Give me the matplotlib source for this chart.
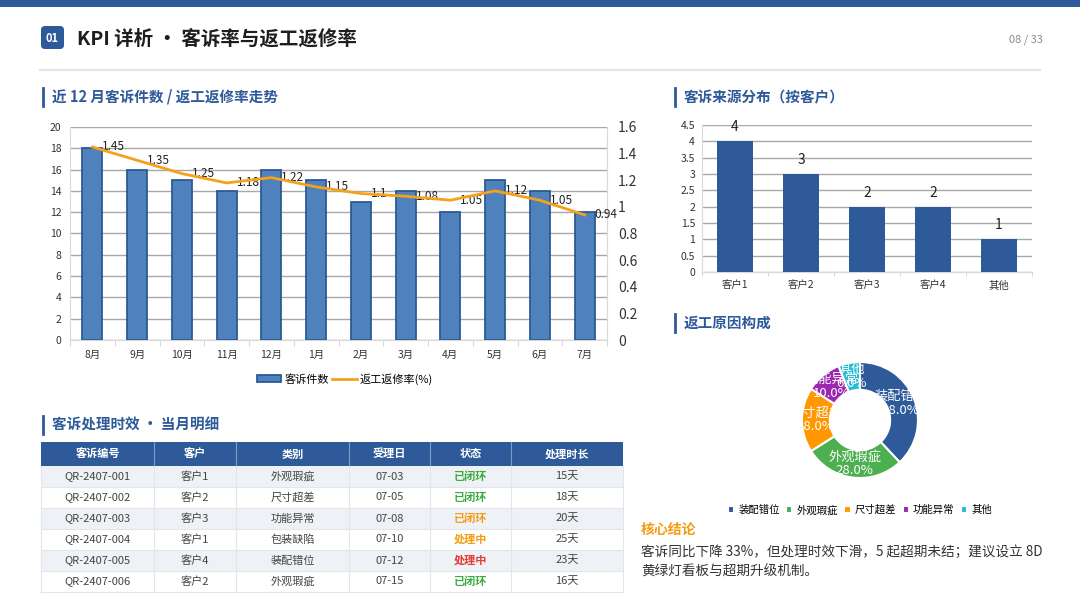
import matplotlib
matplotlib.use('Agg')
import matplotlib.pyplot as plt
from matplotlib.patches import Rectangle, FancyBboxPatch, Patch
from matplotlib.lines import Line2D
from matplotlib import ticker

plt.rcParams['font.family'] = ['Noto Sans CJK SC', 'DejaVu Sans']
plt.rcParams['axes.unicode_minus'] = False

# 数据
months = ['8月', '9月', '10月', '11月', '12月', '1月', '2月', '3月', '4月', '5月', '6月', '7月']
complaints = [18, 16, 15, 14, 16, 15, 13, 14, 12, 15, 14, 12]
rework_rate = [1.45, 1.35, 1.25, 1.18, 1.22, 1.15, 1.1, 1.08, 1.05, 1.12, 1.05, 0.94]

customers = ['客户1', '客户2', '客户3', '客户4', '其他']
customer_counts = [4, 3, 2, 2, 1]

reasons = ['装配错位', '外观瑕疵', '尺寸超差', '功能异常', '其他']
reason_share = [38, 28, 18, 10, 6]

tbl_header = ['客诉编号', '客户', '类别', '受理日', '状态', '处理时长']
tbl_ids = ['QR-2407-001', 'QR-2407-002', 'QR-2407-003', 'QR-2407-004', 'QR-2407-005', 'QR-2407-006']
tbl_cust = ['客户1', '客户2', '客户3', '客户1', '客户4', '客户2']
tbl_type = ['外观瑕疵', '尺寸超差', '功能异常', '包装缺陷', '装配错位', '外观瑕疵']
tbl_date = ['07-03', '07-05', '07-08', '07-10', '07-12', '07-15']
tbl_status = ['已闭环', '已闭环', '已闭环', '处理中', '处理中', '已闭环']
tbl_days = ['15天', '18天', '20天', '25天', '23天', '16天']
status_colors = ['#3BAA3F', '#3BAA3F', '#F39C12', '#F39C12', '#E53935', '#3BAA3F']

BLUE = '#2E5A99'
W, H = 1080, 608

fig = plt.figure(figsize=(10.8, 6.08), dpi=100)
fig.patch.set_facecolor('white')

def px_axes(l, t, r, b):
    return fig.add_axes([l / W, 1 - b / H, (r - l) / W, (b - t) / H])

# 背景层（像素坐标）
bg = fig.add_axes([0, 0, 1, 1], zorder=-1)
bg.set_xlim(0, W)
bg.set_ylim(H, 0)
bg.axis('off')

bg.add_patch(Rectangle((0, 0), W, 7, color=BLUE, lw=0))
bg.add_patch(FancyBboxPatch((41, 26), 23, 23, boxstyle='round,pad=0,rounding_size=4', color=BLUE, lw=0))
bg.text(52.5, 38, '01', color='white', fontsize=8, fontweight='bold', ha='center', va='center')
bg.text(77, 39, 'KPI 详析 • 客诉率与返工返修率', fontsize=14, fontweight='bold', color='#1E1E1E', va='center')
bg.text(1043, 40, '08 / 33', fontsize=8, color='#8A8A8A', ha='right', va='center')
bg.plot([40, 1040], [70, 70], color='#E3E3E3', lw=1.5)

def heading(x, y, s):
    bg.plot([x - 9, x - 9], [y - 9, y + 9], color=BLUE, lw=2)
    bg.text(x, y, s, fontsize=10.5, fontweight='bold', color=BLUE, va='center')

heading(52, 97, '近 12 月客诉件数 / 返工返修率走势')
heading(684, 97, '客诉来源分布（按客户）')
heading(684, 323, '返工原因构成')
heading(52, 425, '客诉处理时效 • 当月明细')

# 主图：柱+折线
ax = px_axes(70, 127, 607, 340)
x = list(range(len(months)))
ax.bar(x, complaints, width=0.45, color='#4F81BD', edgecolor='#2C5A96', lw=1.3, zorder=3)
ax.set_ylim(0, 20)
ax.set_xlim(-0.5, len(months) - 0.5)
ax.set_yticks(range(0, 21, 2))
ax.yaxis.set_major_formatter(ticker.FuncFormatter(lambda v, p: f'{v:g}'))
ax.grid(axis='y', color='#A8A8A8', lw=1, zorder=0)
ax.set_xticks(x)
ax.set_xticklabels(months)
ax.set_xticks([i - 0.5 for i in range(len(months) + 1)], minor=True)
ax.tick_params(axis='x', which='major', length=0, pad=7, labelsize=7.5, colors='#333333')
ax.tick_params(axis='x', which='minor', length=4, color='#D0D0D0')
ax.tick_params(axis='y', length=0, pad=6, labelsize=7.5, colors='#333333')
for s in ['top']:
    ax.spines[s].set_visible(False)
for s in ['left', 'right', 'bottom']:
    ax.spines[s].set_color('#D9D9D9')

ax2 = ax.twinx()
ax2.plot(x, rework_rate, color='#F4A21B', lw=2, zorder=4)
ax2.set_ylim(0, 1.6)
ax2.set_yticks([i * 0.2 for i in range(9)])
ax2.yaxis.set_major_formatter(ticker.FuncFormatter(lambda v, p: f'{round(v, 1):g}'))
ax2.tick_params(axis='y', length=0, pad=8, labelsize=10, colors='#333333')
for s in ['top', 'left', 'bottom']:
    ax2.spines[s].set_visible(False)
ax2.spines['right'].set_color('#D9D9D9')
for xi, v in zip(x, rework_rate):
    ax2.annotate(f'{v:g}', (xi, v), xytext=(10, 0), textcoords='offset pixels',
                 ha='left', va='center', fontsize=8.5, color='#222222')

fig.legend(handles=[Patch(facecolor='#4F81BD', edgecolor='#2C5A96', lw=1.3),
                    Line2D([0], [0], color='#F4A21B', lw=2)],
           labels=['客诉件数', '返工返修率(%)'], loc='center', ncol=2,
           bbox_to_anchor=(345 / W, 1 - 379 / H), frameon=False, fontsize=8,
           handlelength=2.2, handleheight=0.6, columnspacing=0.3, handletextpad=0.3)

# 客户分布柱图
axc = px_axes(702, 125, 1032, 272)
xc = list(range(len(customers)))
axc.bar(xc, customer_counts, width=0.55, color=BLUE, zorder=3)
axc.set_ylim(0, 4.5)
axc.set_xlim(-0.5, len(customers) - 0.5)
axc.set_yticks([i * 0.5 for i in range(10)])
axc.yaxis.set_major_formatter(ticker.FuncFormatter(lambda v, p: f'{v:g}'))
axc.grid(axis='y', color='#A8A8A8', lw=1, zorder=0)
axc.set_xticks(xc)
axc.set_xticklabels(customers)
axc.set_xticks([i - 0.5 for i in range(len(customers) + 1)], minor=True)
axc.tick_params(axis='x', which='major', length=0, pad=6, labelsize=7.5, colors='#333333')
axc.tick_params(axis='x', which='minor', length=3, color='#D0D0D0')
axc.tick_params(axis='y', length=0, pad=5, labelsize=7.5, colors='#333333')
for s in ['top', 'right']:
    axc.spines[s].set_visible(False)
for s in ['left', 'bottom']:
    axc.spines[s].set_color('#D9D9D9')
for xi, v in zip(xc, customer_counts):
    axc.annotate(str(v), (xi, v), xytext=(0, 7), textcoords='offset pixels',
                 ha='center', va='bottom', fontsize=10, color='#222222')

# 返工原因环形图
pie_colors = [BLUE, '#4CAF50', '#FF9800', '#9C27B0', '#26BCD7']
axp = px_axes(802, 362, 918, 478)
wedges, _ = axp.pie(reason_share, colors=pie_colors, startangle=90, counterclock=False,
                    radius=1, wedgeprops=dict(width=0.48, edgecolor='white', linewidth=1.5))
axp.set_xlim(-1, 1)
axp.set_ylim(-1, 1)
total = sum(reason_share)
import math
for w, name, v in zip(wedges, reasons, reason_share):
    ang = math.radians((w.theta1 + w.theta2) / 2)
    r = 0.76
    axp.text(r * math.cos(ang), r * math.sin(ang), f'{name}\n{v / total * 100:.1f}%',
             ha='center', va='center', color='white', fontsize=9.5, linespacing=1.1)
axp.legend(wedges, reasons, loc='center', bbox_to_anchor=(860 / W, 1 - 510 / H),
           bbox_transform=fig.transFigure, ncol=5, frameon=False, fontsize=7.5,
           handlelength=0.6, handleheight=0.6, columnspacing=0.6, handletextpad=0.4)

# 核心结论
bg.text(641, 530, '核心结论', fontsize=10, fontweight='bold', color='#F39C12', va='center')
bg.text(641, 562, '客诉同比下降 33%，但处理时效下滑，5 起超期未结；建议设立 8D\n黄绿灯看板与超期升级机制。',
        fontsize=9.8, color='#333333', va='center', linespacing=1.55)

# 明细表
cols = [41, 154, 236, 349, 430, 511, 623]
head_top, head_bot, row_h = 442, 466, 21
bg.add_patch(Rectangle((cols[0], head_top), cols[-1] - cols[0], head_bot - head_top, color=BLUE, lw=0))
for i, h in enumerate(tbl_header):
    bg.text((cols[i] + cols[i + 1]) / 2, (head_top + head_bot) / 2, h, color='white',
            fontsize=8, fontweight='bold', ha='center', va='center')
    if i > 0:
        bg.plot([cols[i], cols[i]], [head_top, head_bot], color='#7F9CC8', lw=0.8)
rows = list(zip(tbl_ids, tbl_cust, tbl_type, tbl_date, tbl_status, tbl_days))
for r, row in enumerate(rows):
    top = head_bot + r * row_h
    fc = '#EEF1F5' if r % 2 == 0 else 'white'
    bg.add_patch(Rectangle((cols[0], top), cols[-1] - cols[0], row_h, color=fc, lw=0))
    bg.plot([cols[0], cols[-1]], [top + row_h, top + row_h], color='#E2E5EA', lw=0.8)
    for i, val in enumerate(row):
        if i == 4:
            bg.text((cols[i] + cols[i + 1]) / 2, top + row_h / 2, val, color=status_colors[r],
                    fontsize=8, fontweight='bold', ha='center', va='center')
        else:
            bg.text((cols[i] + cols[i + 1]) / 2, top + row_h / 2, val, color='#444444',
                    fontsize=8, ha='center', va='center')
tbl_bot = head_bot + len(rows) * row_h
for c in cols:
    bg.plot([c, c], [head_bot, tbl_bot], color='#E2E5EA', lw=0.8)

fig.savefig('out.png', dpi=100)
